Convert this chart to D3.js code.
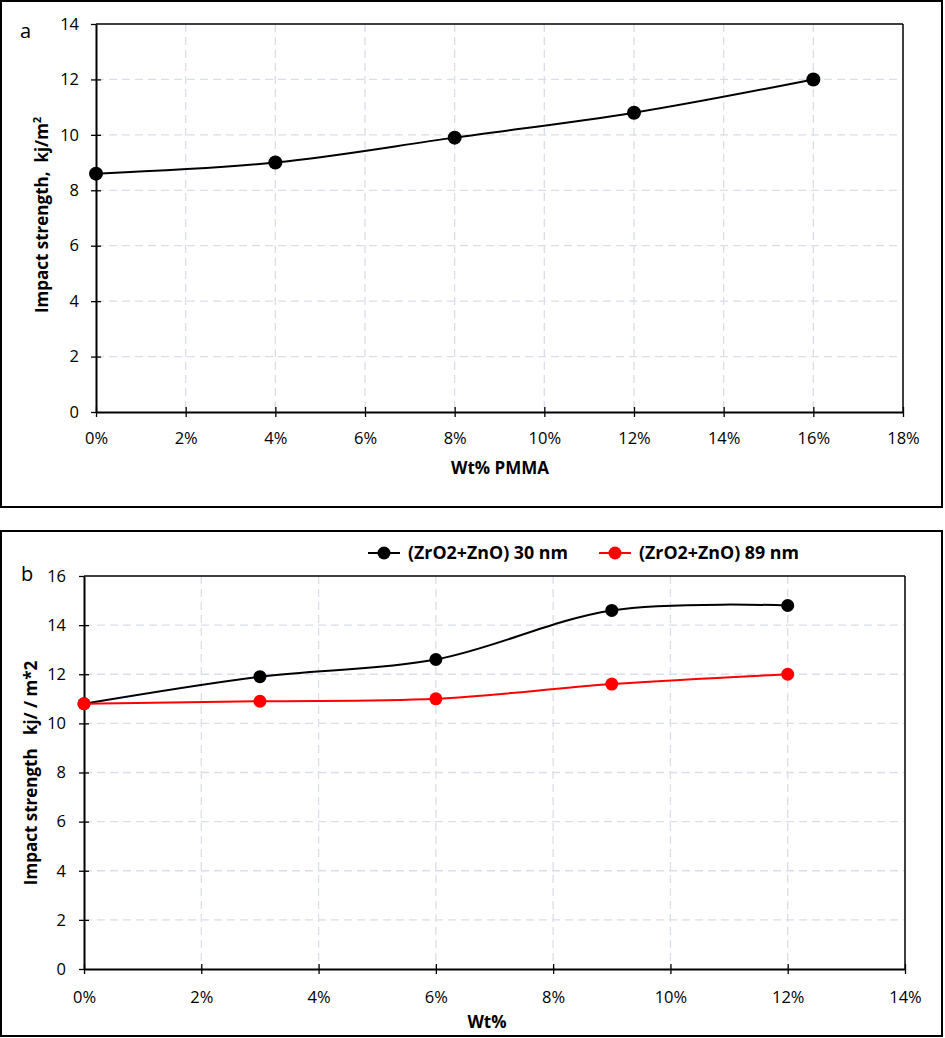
<!DOCTYPE html>
<html><head><meta charset="utf-8">
<script src="https://cdn.jsdelivr.net/npm/d3@7"></script>
<style>body{margin:0;background:#fff;} text{font-family:"Open Sans","Liberation Sans",sans-serif;}</style>
</head><body>
<svg id="c" width="945" height="1038"></svg>
<script>
// Panel a data
const aX = [0, 4, 8, 12, 16];
const aY = [8.6, 9.0, 9.9, 10.8, 12.0];
const aXTicks = [0, 2, 4, 6, 8, 10, 12, 14, 16, 18];
const aYTicks = [0, 2, 4, 6, 8, 10, 12, 14];
// Panel b data
const bX = [0, 3, 6, 9, 12];
const b30 = [10.8, 11.9, 12.6, 14.6, 14.8];
const b89 = [10.8, 10.9, 11.0, 11.6, 12.0];
const bXTicks = [0, 2, 4, 6, 8, 10, 12, 14];
const bYTicks = [0, 2, 4, 6, 8, 10, 12, 14, 16];
const seriesNames = ["(ZrO2+ZnO) 30 nm", "(ZrO2+ZnO) 89 nm"];

const svg = d3.select("#c");

function panel(opt) {
  const g = svg.append("g");
  g.append("rect").attr("x", 1).attr("y", opt.boxTop).attr("width", 941).attr("height", opt.boxH)
    .attr("fill", "none").attr("stroke", "#000").attr("stroke-width", 2);
  const x = d3.scaleLinear().domain(opt.xDom).range([opt.L, opt.R]);
  const y = d3.scaleLinear().domain(opt.yDom).range([opt.B, opt.T]);
  // grid
  g.selectAll(".gx").data(opt.xTicks.slice(1, -1)).join("line")
    .attr("x1", d => x(d)).attr("x2", d => x(d)).attr("y1", opt.T).attr("y2", opt.B)
    .attr("stroke", "#d9dee8").attr("stroke-width", 1.3).attr("stroke-dasharray", "8,5");
  g.selectAll(".gy").data(opt.yTicks.slice(1, -1)).join("line")
    .attr("x1", opt.L).attr("x2", opt.R).attr("y1", d => y(d)).attr("y2", d => y(d))
    .attr("stroke", "#d9dee8").attr("stroke-width", 1.3).attr("stroke-dasharray", "8,5");
  // frame top/right
  g.append("line").attr("x1", opt.L).attr("x2", opt.R).attr("y1", opt.T).attr("y2", opt.T).attr("stroke", "#000").attr("stroke-width", 1.5);
  g.append("line").attr("x1", opt.R).attr("x2", opt.R).attr("y1", opt.T).attr("y2", opt.B).attr("stroke", "#000").attr("stroke-width", 1.5);
  // axes
  const xa = g.append("g").attr("transform", `translate(0,${opt.B})`)
    .call(d3.axisBottom(x).tickValues(opt.xTicks).tickFormat(d => d + "%").tickSize(5).tickSizeOuter(0));
  xa.select(".domain").attr("stroke-width", 2);
  xa.selectAll(".tick line").attr("y1", -5).attr("y2", 5).attr("stroke-width", 1.3);
  xa.selectAll(".tick text").attr("y", opt.xLabOff).attr("font-size", 16.5).attr("fill", "#000");
  const ya = g.append("g").attr("transform", `translate(${opt.L},0)`)
    .call(d3.axisLeft(y).tickValues(opt.yTicks).tickSize(5).tickSizeOuter(0));
  ya.select(".domain").attr("stroke-width", 2);
  ya.selectAll(".tick line").attr("x1", -5).attr("x2", 5).attr("stroke-width", 1.3);
  ya.selectAll(".tick text").attr("x", -opt.yLabOff).attr("font-size", 16.5).attr("fill", "#000");
  ya.selectAll(".tick").filter(d => d === opt.yDom[0] || d === opt.yDom[1]).select("line").attr("x2", 0);
  // series
  const line = d3.line().x(d => x(d[0])).y(d => y(d[1])).curve(d3.curveCatmullRom.alpha(0.5));
  opt.series.forEach(s => {
    const pts = s.xs.map((v, i) => [v, s.ys[i]]);
    g.append("path").attr("d", line(pts)).attr("fill", "none").attr("stroke", s.color).attr("stroke-width", 2);
    g.selectAll(null).data(pts).join("circle").attr("cx", d => x(d[0])).attr("cy", d => y(d[1]))
      .attr("r", opt.r).attr("fill", s.color);
  });
  return {g, x, y};
}

const pa = panel({boxTop: 1, boxH: 506, L: 96, R: 903, T: 24, B: 412, xDom: [0, 18], yDom: [0, 14],
  xTicks: aXTicks, yTicks: aYTicks, yLabOff: 17, xLabOff: 20, r: 7,
  series: [{xs: aX, ys: aY, color: "#000"}]});
pa.g.append("text").attr("x", 20).attr("y", 38).attr("font-size", 20).text("a");
pa.g.append("text").attr("transform", "translate(48,215) rotate(-90)").attr("text-anchor", "middle")
  .attr("font-size", 17).attr("font-weight", "bold").attr("xml:space", "preserve")
  .html('Impact strength,  kj/m<tspan dy="-7" font-size="11">2</tspan>');
pa.g.append("text").attr("x", 500).attr("y", 474).attr("text-anchor", "middle").attr("font-size", 17).attr("font-weight", "bold").text("Wt% PMMA");

const pb = panel({boxTop: 531, boxH: 505, L: 84, R: 905, T: 576, B: 969, xDom: [0, 14], yDom: [0, 16],
  xTicks: bXTicks, yTicks: bYTicks, yLabOff: 18, xLabOff: 22, r: 6.5,
  series: [{xs: bX, ys: b30, color: "#000"}, {xs: bX, ys: b89, color: "#ff0000"}]});
pb.g.append("text").attr("x", 21).attr("y", 581).attr("font-size", 20).text("b");
pb.g.append("text").attr("transform", "translate(37,773) rotate(-90)").attr("text-anchor", "middle")
  .attr("font-size", 17).attr("font-weight", "bold").attr("xml:space", "preserve").text("Impact strength   kj/ / m*2");
pb.g.append("text").attr("x", 487).attr("y", 1028).attr("text-anchor", "middle").attr("font-size", 17).attr("font-weight", "bold").text("Wt%");
// legend
const legX = [368, 599], legColors = ["#000", "#ff0000"];
seriesNames.forEach((n, i) => {
  const lg = pb.g.append("g");
  lg.append("line").attr("x1", legX[i]).attr("x2", legX[i] + 32).attr("y1", 553).attr("y2", 553).attr("stroke", legColors[i]).attr("stroke-width", 2);
  lg.append("circle").attr("cx", legX[i] + 16).attr("cy", 553).attr("r", 6.5).attr("fill", legColors[i]);
  lg.append("text").attr("x", legX[i] + 40).attr("y", 559).attr("font-size", 17).attr("font-weight", "bold")
    .attr("textLength", 160).attr("lengthAdjust", "spacingAndGlyphs").text(n);
});
</script>
</body></html>
